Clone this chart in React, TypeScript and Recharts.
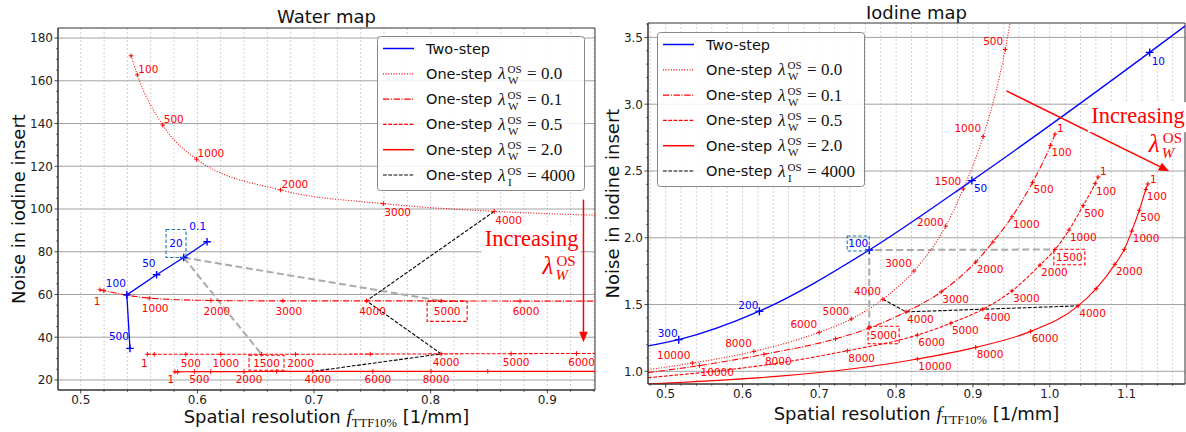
import React from "react";
import {
  ComposedChart,
  Line,
  XAxis,
  YAxis,
  CartesianGrid,
  LabelList,
  ReferenceLine,
  ReferenceDot,
  ReferenceArea,
  Legend,
  Customized,
} from "recharts";

type Pt = { x: number; y: number; t: string | null };
// rows are [resolution, noise, marker label]; "" = marker without label, null = line end only
const pts = (rows: [number, number, string | null][]): Pt[] =>
  rows.map(([x, y, t]) => ({ x, y, t }));

// ---------- Water map ----------
const waterTwoStep = pts([
  [0.6083, 84.7, "0.1"],
  [0.5883, 77.3, "20"],
  [0.565, 69.2, "50"],
  [0.5395, 59.8, "100"],
  [0.5422, 34.8, "500"],
]);
const waterOS00 = pts([
  [0.5432, 171.7, ""],
  [0.5485, 162.8, "100"],
  [0.5703, 139.3, "500"],
  [0.5993, 123.3, "1000"],
  [0.6713, 108.9, "2000"],
  [0.7594, 102.5, "3000"],
  [0.8545, 98.9, "4000"],
  [0.9409, 97.1, null],
]);
const waterOS01 = pts([
  [0.5165, 62.2, "1"],
  [0.5198, 61.8, ""],
  [0.5395, 59.7, ""],
  [0.5587, 58.3, "1000"],
  [0.6116, 57.2, "2000"],
  [0.6733, 57.0, "3000"],
  [0.745, 57.0, "4000"],
  [0.809, 57.0, "5000"],
  [0.8766, 56.9, "6000"],
  [0.9409, 56.9, null],
]);
const waterOS05 = pts([
  [0.5571, 32.0, "1"],
  [0.563, 32.0, ""],
  [0.5901, 32.0, "500"],
  [0.6201, 32.0, "1000"],
  [0.655, 32.0, "1500"],
  [0.6842, 32.0, "2000"],
  [0.7482, 32.1, ""],
  [0.809, 32.2, "4000"],
  [0.869, 32.3, "5000"],
  [0.9251, 32.4, "6000"],
  [0.9409, 32.4, null],
]);
const waterOS20 = pts([
  [0.5807, 23.8, "1"],
  [0.5831, 23.8, ""],
  [0.5974, 23.9, "500"],
  [0.6114, 23.9, ""],
  [0.64, 23.9, "2000"],
  [0.668, 24.0, ""],
  [0.699, 24.0, "4000"],
  [0.7505, 24.0, "6000"],
  [0.8003, 24.0, "8000"],
  [0.849, 24.0, ""],
  [0.9409, 24.0, null],
]);

// ---------- Iodine map ----------
const iodineTwoStep = pts([
  [0.477, 1.19, null],
  [0.517, 1.237, "300"],
  [0.622, 1.45, "200"],
  [0.765, 1.908, "100"],
  [0.8986, 2.428, "50"],
  [1.13, 3.388, "10"],
  [1.176, 3.585, null],
]);
const iodineOS00 = pts([
  [0.477, 1.012, null],
  [0.5348, 1.062, "10000"],
  [0.6148, 1.149, "8000"],
  [0.6998, 1.292, "6000"],
  [0.7416, 1.392, "5000"],
  [0.7827, 1.54, "4000"],
  [0.8231, 1.751, "3000"],
  [0.8645, 2.087, "2000"],
  [0.8874, 2.366, "1500"],
  [0.9133, 2.759, "1000"],
  [0.942, 3.41, "500"],
  [0.9483, 3.608, null],
]);
const iodineOS01 = pts([
  [0.477, 0.99, null],
  [0.5441, 1.043, "10000"],
  [0.6279, 1.127, "8000"],
  [0.721, 1.243, ""],
  [0.765, 1.324, "5000"],
  [0.8129, 1.445, "4000"],
  [0.8587, 1.595, "3000"],
  [0.9035, 1.818, "2000"],
  [0.9259, 1.968, ""],
  [0.9508, 2.157, "1000"],
  [0.9776, 2.415, "500"],
  [1.001, 2.692, "100"],
  [1.0068, 2.776, "1"],
]);
const iodineOS05 = pts([
  [0.477, 0.952, null],
  [0.6636, 1.077, null],
  [0.7364, 1.154, "8000"],
  [0.8275, 1.271, "6000"],
  [0.8713, 1.361, "5000"],
  [0.9128, 1.465, "4000"],
  [0.9508, 1.602, "3000"],
  [0.9873, 1.796, "2000"],
  [1.0068, 1.912, "1500"],
  [1.0249, 2.057, "1000"],
  [1.0434, 2.241, "500"],
  [1.059, 2.405, "100"],
  [1.0629, 2.455, "1"],
]);
const iodineOS20 = pts([
  [0.477, 0.905, null],
  [0.8275, 1.092, "10000"],
  [0.9035, 1.179, "8000"],
  [0.9751, 1.299, "6000"],
  [1.037, 1.49, "4000"],
  [1.0604, 1.619, ""],
  [1.0848, 1.801, "2000"],
  [1.097, 1.913, ""],
  [1.1067, 2.05, "1000"],
  [1.1165, 2.206, "500"],
  [1.125, 2.361, "100"],
  [1.1277, 2.403, "1"],
]);

const pick = (d: Pt[], t: string) => d.find((p) => p.t === t) as Pt;

// matched points and lambda_I = 4000 links
const waterGray = [
  [pick(waterTwoStep, "20"), pick(waterOS01, "5000")],
  [pick(waterTwoStep, "20"), pick(waterOS05, "1500")],
];
const waterIso = [waterOS00, waterOS01, waterOS05, waterOS20].map((d) => pick(d, "4000"));
const iodineGray = [
  [pick(iodineOS01, "5000"), pick(iodineTwoStep, "100"), pick(iodineOS05, "1500")],
];
const iodineIso = [iodineOS00, iodineOS01, iodineOS05, iodineOS20].map((d) => pick(d, "4000"));

// axis ticks
const waterXTicks = [0.5, 0.6, 0.7, 0.8, 0.9];
const waterYTicks = [20, 40, 60, 80, 100, 120, 140, 160, 180];
const iodineXTicks = [0.5, 0.6, 0.7, 0.8, 0.9, 1.0, 1.1];
const iodineYTicks = [1.0, 1.5, 2.0, 2.5, 3.0, 3.5];
const steps = (a: number, b: number, s: number) => {
  const out: number[] = [];
  for (let i = 0; a + i * s <= b + 1e-9; i++) out.push(+(a + i * s).toFixed(4));
  return out;
};
const waterXMinor = steps(0.5, 0.94, 0.02);
const waterYMinor = steps(20, 180, 5);
const iodineXMinor = steps(0.48, 1.16, 0.02);
const iodineYMinor = steps(1.0, 3.6, 0.1);

// annotation arrows ("Increasing lambda_W^OS")
const waterArrow = [{ x: 0.931, y: 104.4 }, { x: 0.931, y: 37.6 }];
const waterNote = { x: 0.9267, y: 82.7 };
const iodineArrow = [{ x: 0.9435, y: 3.1 }, { x: 1.1555, y: 2.4975 }];
const iodineNote = { x: 1.1758, y: 2.858 };

const legendRows = [
  { name: "Two-step", sub: "", val: "" },
  { name: "One-step", sub: "W", val: "0.0" },
  { name: "One-step", sub: "W", val: "0.1" },
  { name: "One-step", sub: "W", val: "0.5" },
  { name: "One-step", sub: "W", val: "2.0" },
  { name: "One-step", sub: "I", val: "4000" },
];

// ---------- styles ----------
const SANS = "DejaVu Sans, sans-serif";
const SERIF = "Liberation Serif, DejaVu Serif, serif";
const RED = "#ff0000";
const BLUE = "#0000ff";
const BOXBLUE = "#1f77b4";
const DOT = "1 1.65";
const DASHDOT = "6.4 1.6 1 1.6";
const DASH = "3.7 1.6";
const legendStyles = [
  { color: BLUE, dash: undefined as string | undefined, w: 1.5 },
  { color: RED, dash: DOT, w: 1.2 },
  { color: RED, dash: DASHDOT, w: 1.2 },
  { color: RED, dash: DASH, w: 1.2 },
  { color: RED, dash: undefined, w: 1.5 },
  { color: "#000", dash: DASH, w: 1.1 },
];

type Place = { a: "start" | "middle" | "end"; dx: number; dy: number };
type Series = {
  id: string;
  data: Pt[];
  color: string;
  width: number;
  dash?: string;
  curve: "linear" | "monotone";
  arm: number;
  place: Place;
  over?: Record<string, Place>;
  boxed?: string;
  box?: [number, number];
  boxColor?: string;
};

const waterSeries: Series[] = [
  { id: "w00", data: waterOS00, color: RED, width: 1.1, dash: DOT, curve: "monotone", arm: 2.3,
    place: { a: "start", dx: 1, dy: -6 },
    over: { "3000": { a: "start", dx: 1, dy: 9 }, "4000": { a: "start", dx: 1, dy: 9 } } },
  { id: "w01", data: waterOS01, color: RED, width: 1.1, dash: DASHDOT, curve: "monotone", arm: 2.3,
    place: { a: "middle", dx: 6, dy: 10.5 }, over: { "1": { a: "middle", dx: -3, dy: 11 } },
    boxed: "5000", box: [40, 20], boxColor: RED },
  { id: "w05", data: waterOS05, color: RED, width: 1.1, dash: DASH, curve: "monotone", arm: 2.3,
    place: { a: "middle", dx: 5, dy: 8.5 }, over: { "1": { a: "middle", dx: -3, dy: 8.5 } },
    boxed: "1500", box: [35, 15], boxColor: RED },
  { id: "w20", data: waterOS20, color: RED, width: 1.1, curve: "monotone", arm: 2.3,
    place: { a: "middle", dx: 5, dy: 7.5 }, over: { "1": { a: "middle", dx: -4, dy: 7.5 } } },
  { id: "wtwo", data: waterTwoStep, color: BLUE, width: 1.3, curve: "linear", arm: 3.8,
    place: { a: "end", dx: -1, dy: -12 },
    over: { "0.1": { a: "end", dx: -1, dy: -15 }, "20": { a: "end", dx: -1, dy: -14 } },
    boxed: "20", box: [20, 28], boxColor: BOXBLUE },
];

const iodineSeries: Series[] = [
  { id: "i00", data: iodineOS00, color: RED, width: 1.1, dash: DOT, curve: "monotone", arm: 2.3,
    place: { a: "end", dx: -2, dy: -8 }, over: { "2000": { a: "end", dx: -2, dy: -4 } } },
  { id: "i01", data: iodineOS01, color: RED, width: 1.1, dash: DASHDOT, curve: "monotone", arm: 2.3,
    place: { a: "start", dx: 1, dy: 7 }, over: { "1": { a: "start", dx: 2, dy: -6 } },
    boxed: "5000", box: [31, 17.5], boxColor: RED },
  { id: "i05", data: iodineOS05, color: RED, width: 1.1, dash: DASH, curve: "monotone", arm: 2.3,
    place: { a: "start", dx: 1, dy: 7.5 }, over: { "1": { a: "start", dx: 2, dy: -6 } },
    boxed: "1500", box: [31, 15.5], boxColor: RED },
  { id: "i20", data: iodineOS20, color: RED, width: 1.1, curve: "monotone", arm: 2.3,
    place: { a: "start", dx: 1, dy: 7 }, over: { "1": { a: "start", dx: 2, dy: -5 } } },
  { id: "itwo", data: iodineTwoStep, color: BLUE, width: 1.3, curve: "monotone", arm: 4,
    place: { a: "end", dx: -1, dy: -6.5 },
    over: { "10": { a: "start", dx: 2, dy: 8.5 }, "50": { a: "start", dx: 2, dy: 8 } },
    boxed: "100", box: [22, 15], boxColor: BOXBLUE },
];

const LABEL_FS = 10.5;

const crossDot = (s: Series) => (d: any) => {
  const { cx, cy, payload, index } = d;
  const k = `${s.id}-d${index}`;
  if (!payload || payload.t === null || cx == null || cy == null) return <g key={k} />;
  const a = s.arm;
  return (
    <path key={k} d={`M${cx - a},${cy}H${cx + a}M${cx},${cy - a}V${cy + a}`}
      stroke={s.color} strokeWidth={a > 3 ? 1.4 : 1} fill="none" />
  );
};

const labelFor = (s: Series) => (p: any) => {
  const t = p.value;
  if (t === null || t === undefined || t === "") return null;
  const px = p.viewBox?.x ?? p.x;
  const py = p.viewBox?.y ?? p.y;
  if (px == null || py == null) return null;
  const pl = (s.over && s.over[t]) || s.place;
  const tw = String(t).split("").reduce((w, c) => w + (c === "." ? 0.318 : 0.636), 0) * LABEL_FS;
  const tx = px + pl.dx;
  const cyT = py + pl.dy;
  const cxT = pl.a === "start" ? tx + tw / 2 : pl.a === "end" ? tx - tw / 2 : tx;
  return (
    <g>
      {s.boxed === t && s.box && (
        <rect x={cxT - s.box[0] / 2} y={cyT - s.box[1] / 2} width={s.box[0]} height={s.box[1]}
          fill="none" stroke={s.boxColor} strokeWidth={1.1} strokeDasharray="3.5 2" />
      )}
      <text x={tx} y={cyT + 3.8} textAnchor={pl.a} fontSize={LABEL_FS} fontFamily={SANS} fill={s.color}>
        {t}
      </text>
    </g>
  );
};

const near = (a: number[], v: number) => a.some((m) => Math.abs(m - v) < 1e-6);

const xTick = (major: number[]) => (t: any) => {
  const v = t.payload.value;
  const isM = near(major, v);
  return (
    <g>
      <line x1={t.x} x2={t.x} y1={t.y} y2={t.y + (isM ? 3.5 : 2)} stroke="#333" strokeWidth={isM ? 0.9 : 0.7} />
      {isM && (
        <text x={t.x} y={t.y + 13.5} textAnchor="middle" fontSize={12} fontFamily={SANS} fill="#222">
          {v.toFixed(1)}
        </text>
      )}
    </g>
  );
};

const yTick = (major: number[], fmt: (v: number) => string) => (t: any) => {
  const v = t.payload.value;
  const isM = near(major, v);
  return (
    <g>
      <line x1={t.x} x2={t.x - (isM ? 3.5 : 2)} y1={t.y} y2={t.y} stroke="#333" strokeWidth={isM ? 0.9 : 0.7} />
      {isM && (
        <text x={t.x - 5} y={t.y + 4.3} textAnchor="end" fontSize={12} fontFamily={SANS} fill="#222">
          {fmt(v)}
        </text>
      )}
    </g>
  );
};

const arrowShape = (p: any) => {
  const { x1, y1, x2, y2 } = p;
  const ang = Math.atan2(y2 - y1, x2 - x1);
  const L = 10.5;
  const hw = 4.3;
  const bx = x2 - L * Math.cos(ang);
  const by = y2 - L * Math.sin(ang);
  const ox = -Math.sin(ang) * hw;
  const oy = Math.cos(ang) * hw;
  return (
    <g>
      <line x1={x1} y1={y1} x2={bx} y2={by} stroke={RED} strokeWidth={1.5} />
      <polygon points={`${x2},${y2} ${bx + ox},${by + oy} ${bx - ox},${by - oy}`} fill={RED} />
    </g>
  );
};

// white box only behind the word, so the arrow stays visible
const noteShape = (p: any) => {
  const { cx, cy } = p;
  if (cx == null || cy == null) return <g />;
  return (
    <g>
      <rect x={cx - 97} y={cy - 21} width={99} height={30} fill="#fff" />
      <text x={cx} y={cy} textAnchor="end" fontSize={22.5} fontFamily={SERIF} fill={RED}>
        Increasing
      </text>
      <text x={cx - 36} y={cy + 28.5} fontSize={25} fontFamily={SERIF} fontStyle="italic" fill={RED}>
        λ
      </text>
      <text x={cx - 22} y={cy + 20} fontSize={15} fontFamily={SERIF} fill={RED}>
        OS
      </text>
      <text x={cx - 23} y={cy + 34.5} fontSize={15} fontFamily={SERIF} fontStyle="italic" fill={RED}>
        W
      </text>
    </g>
  );
};

function LegendBox() {
  return (
    <svg width={208} height={156} style={{ display: "block", overflow: "visible" }}>
      <rect x={0.5} y={0.5} width={207} height={154} rx={3} fill="#fff" fillOpacity={0.85} stroke="#888" />
      {legendRows.map((r, i) => {
        const st = legendStyles[i];
        const cy = 12.5 + i * 25.3;
        return (
          <g key={i}>
            <line x1={6} x2={37} y1={cy} y2={cy} stroke={st.color} strokeWidth={st.w} strokeDasharray={st.dash} />
            <text x={49} y={cy + 5} fontSize={14.5} fontFamily={SANS} fill="#111">
              {r.name}
            </text>
            {r.sub && (
              <g fontFamily={SERIF} fill="#111">
                <text x={121} y={cy + 5.5} fontSize={17.5} fontStyle="italic">λ</text>
                <text x={130.5} y={cy - 0.5} fontSize={11}>OS</text>
                <text x={131} y={cy + 10.5} fontSize={11}>{r.sub}</text>
                <text x={150} y={cy + 5.5} fontSize={17}>=</text>
                <text x={164} y={cy + 5.5} fontSize={17}>{r.val}</text>
              </g>
            )}
          </g>
        );
      })}
    </svg>
  );
}

type MapProps = {
  left: number;
  width: number;
  margin: { top: number; right: number; left: number; bottom: number };
  yW: number;
  xH: number;
  title: string;
  titleY: number;
  ylabelX: number;
  xlabelY: number;
  xDom: [number, number];
  yDom: [number, number];
  xMajor: number[];
  yMajor: number[];
  xMinor: number[];
  yMinor: number[];
  yFmt: (v: number) => string;
  series: Series[];
  gray: Pt[][];
  iso: Pt[];
  arrow: { x: number; y: number }[];
  note: { x: number; y: number };
  legendAt: { left: number; top: number };
};

function MapChart(p: MapProps) {
  const H = 432;
  const plotL = p.margin.left + p.yW;
  const plotR = p.width - p.margin.right;
  const plotT = p.margin.top;
  const plotB = H - p.margin.bottom - p.xH;
  const mx = (plotL + plotR) / 2;
  const my = (plotT + plotB) / 2;
  const Decor = () => (
    <g fontFamily={SANS} fill="#111">
      <text x={mx} y={p.titleY} textAnchor="middle" fontSize={18}>
        {p.title}
      </text>
      <text transform={`translate(${p.ylabelX},${my}) rotate(-90)`} textAnchor="middle" fontSize={18}>
        Noise in iodine insert
      </text>
      <text x={mx} y={p.xlabelY} textAnchor="middle" fontSize={18}>
        Spatial resolution{" "}
        <tspan fontFamily={SERIF} fontStyle="italic" fontSize={19.5}>f</tspan>
        <tspan fontFamily={SERIF} fontSize={12.5} dy={4}>TTF10%</tspan>
        <tspan dy={-4}> [1/mm]</tspan>
      </text>
    </g>
  );
  return (
    <div style={{ position: "absolute", left: p.left, top: 0 }}>
      <ComposedChart width={p.width} height={H} margin={p.margin}>
        <CartesianGrid horizontal={false} verticalValues={p.xMinor} stroke="#d2d2d2" strokeDasharray="2 2" />
        <CartesianGrid vertical={false} horizontalValues={p.yMajor} stroke="#a3a3a3" />
        <XAxis
          type="number"
          dataKey="x"
          domain={p.xDom}
          allowDataOverflow
          ticks={p.xMinor}
          interval={0}
          tickSize={0}
          tickMargin={0}
          tickLine={false}
          axisLine={{ stroke: "#333" }}
          height={p.xH}
          tick={xTick(p.xMajor)}
          tickFormatter={(v: number) => (near(p.xMajor, v) ? v.toFixed(1) : "")}
        />
        <YAxis
          type="number"
          dataKey="y"
          domain={p.yDom}
          allowDataOverflow
          ticks={p.yMinor}
          interval={0}
          tickSize={0}
          tickMargin={0}
          tickLine={false}
          axisLine={{ stroke: "#333" }}
          width={p.yW}
          tick={yTick(p.yMajor, p.yFmt)}
          tickFormatter={(v: number) => (near(p.yMajor, v) ? p.yFmt(v) : "")}
        />
        {p.gray.map((g, i) => (
          <Line key={`gray${i}`} data={g} dataKey="y" type="linear" stroke="#aaaaaa" strokeWidth={2}
            strokeDasharray="7 3.5" dot={false} activeDot={false} isAnimationActive={false} legendType="none" />
        ))}
        <Line data={p.iso} dataKey="y" type="linear" stroke="#000" strokeWidth={1.1} strokeDasharray={DASH}
          dot={false} activeDot={false} isAnimationActive={false} legendType="none" />
        {p.series.map((s) => (
          <Line key={s.id} data={s.data} dataKey="y" type={s.curve} stroke={s.color} strokeWidth={s.width}
            strokeDasharray={s.dash} dot={crossDot(s)} activeDot={false} isAnimationActive={false}>
            <LabelList dataKey="t" content={labelFor(s)} />
          </Line>
        ))}
        <ReferenceDot x={p.note.x} y={p.note.y} r={0} shape={noteShape} ifOverflow="visible" />
        <ReferenceLine segment={p.arrow} shape={arrowShape} ifOverflow="visible" />
        <ReferenceArea x1={p.xDom[0]} x2={p.xDom[1]} y1={p.yDom[0]} y2={p.yDom[1]}
          fill="none" fillOpacity={0} stroke="#333" strokeWidth={1} ifOverflow="visible" />
        <Customized component={Decor} />
        <Legend layout="vertical" align="center" verticalAlign="middle" width={208} height={156}
          wrapperStyle={{ left: p.legendAt.left, top: p.legendAt.top, width: 208, height: 156 }}
          content={() => <LegendBox />} />
      </ComposedChart>
    </div>
  );
}

export default function App() {
  return (
    <div style={{ position: "absolute", left: 0, top: 0, width: 1186, height: 432, background: "#fff", overflow: "hidden" }}>
      <MapChart
        left={0}
        width={600}
        margin={{ top: 28, right: 5, left: 0, bottom: 0 }}
        yW={58}
        xH={42}
        title="Water map"
        titleY={23}
        ylabelX={25}
        xlabelY={423}
        xDom={[0.4805, 0.9409]}
        yDom={[15.3, 184.7]}
        xMajor={waterXTicks}
        yMajor={waterYTicks}
        xMinor={waterXMinor}
        yMinor={waterYMinor}
        yFmt={(v) => String(v)}
        series={waterSeries}
        gray={waterGray}
        iso={waterIso}
        arrow={waterArrow}
        note={waterNote}
        legendAt={{ left: 377, top: 36 }}
      />
      <MapChart
        left={600}
        width={586}
        margin={{ top: 23, right: 1, left: 0, bottom: 0 }}
        yW={48}
        xH={48}
        title="Iodine map"
        titleY={19}
        ylabelX={19}
        xlabelY={420}
        xDom={[0.477, 1.176]}
        yDom={[0.905, 3.608]}
        xMajor={iodineXTicks}
        yMajor={iodineYTicks}
        xMinor={iodineXMinor}
        yMinor={iodineYMinor}
        yFmt={(v) => v.toFixed(1)}
        series={iodineSeries}
        gray={iodineGray}
        iso={iodineIso}
        arrow={iodineArrow}
        note={iodineNote}
        legendAt={{ left: 57, top: 32 }}
      />
    </div>
  );
}
